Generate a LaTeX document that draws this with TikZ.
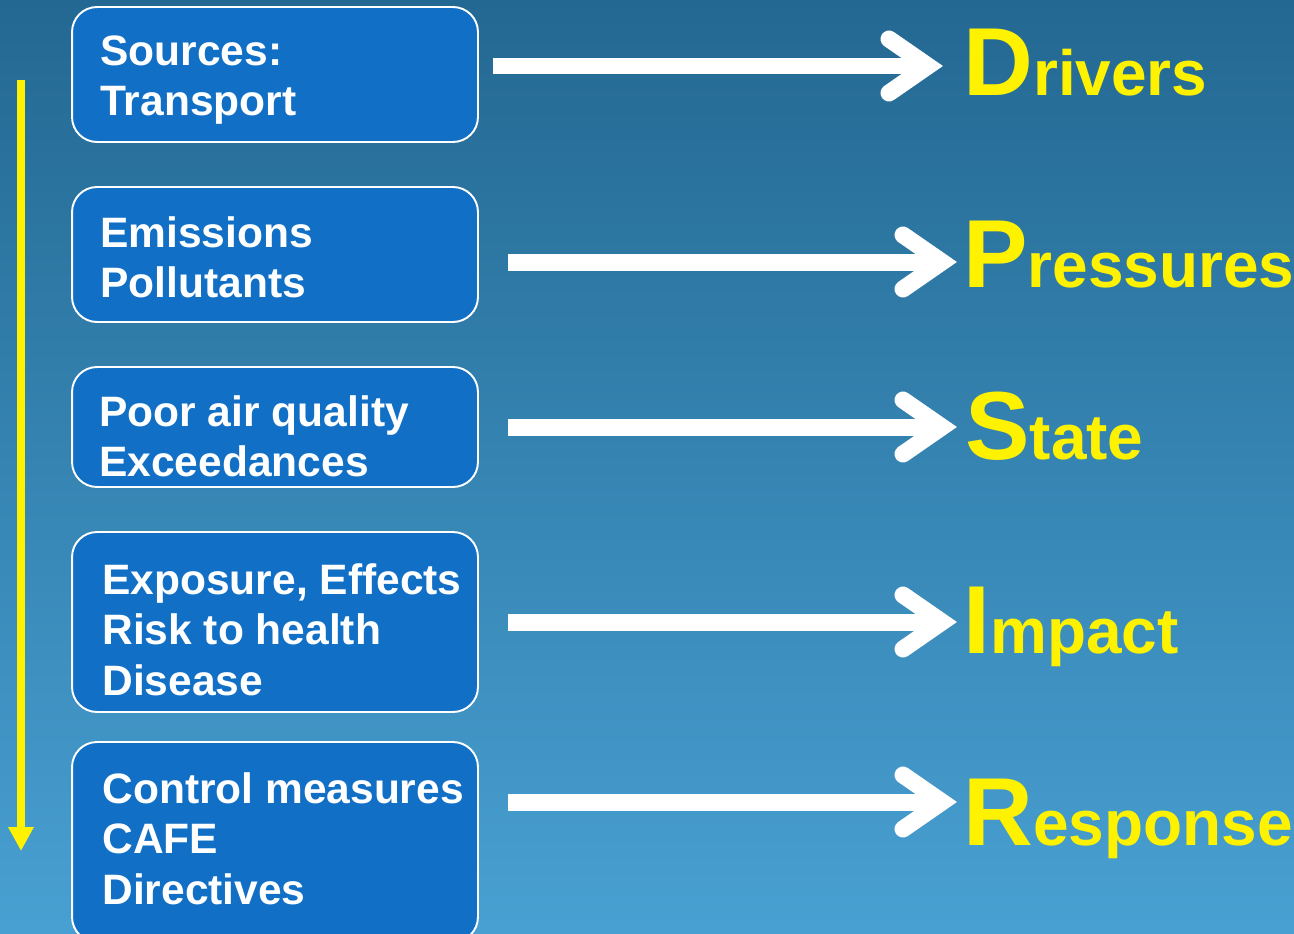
\documentclass[tikz,border=0pt]{standalone}
\usepackage{fontspec}
\setmainfont{Liberation Sans}
\usepackage{tikz}
\usetikzlibrary{arrows.meta,calc}

\definecolor{bgtop}{RGB}{35,104,146}
\definecolor{bgbottom}{RGB}{72,160,210}
\definecolor{boxblue}{RGB}{17,112,198}
\newcommand{\initial}[1]{{\fontsize{55}{55}\selectfont #1}}

\tikzset{
    stagebox/.style={draw=white, line width=1.1pt, fill=boxblue, rounded corners=0.5cm, minimum width=8.12cm, inner sep=0},
    stagetext/.style={anchor=north west, inner sep=0, align=left, text=white, font=\bfseries\fontsize{24.2}{28.9}\selectfont},
    dpsir/.style={anchor=base west, inner sep=0, text=yellow, font=\bfseries\fontsize{36.4}{37}\selectfont},
    flow/.style={draw=white, line width=0.34cm},
    flowhead/.style={draw=white, line width=0.34cm, line cap=round, line join=miter}
}

\begin{document}
\begin{tikzpicture}[x=0.02cm, y=-0.02cm]
    % Background
    \useasboundingbox (0,0) rectangle (1294,933);
    \shade[top color=bgtop, bottom color=bgbottom] (0,0) rectangle (1294,933);

    % Nodes
    \node[stagebox, minimum height=2.7cm] (sources) at (275,74.5) {};
    \node[stagebox, minimum height=2.7cm] (emissions) at (275,254.5) {};
    \node[stagebox, minimum height=2.4cm] (airquality) at (275,427) {};
    \node[stagebox, minimum height=3.6cm] (health) at (275,622) {};
    \node[stagebox, minimum height=4.0cm] (measures) at (275,842) {};

    \node[stagetext] (sourcestext) at (100,35) {Sources:\\Transport};
    \node[stagetext] (emissionstext) at (100,216) {Emissions\\Pollutants};
    \node[stagetext] (airqualitytext) at (99,395) {Poor air quality\\Exceedances};
    \node[stagetext] (healthtext) at (102,563) {Exposure, Effects\\Risk to health\\Disease};
    \node[stagetext] (measurestext) at (102,772) {Control measures\\CAFE\\Directives};

    \node[dpsir] (drivers) at (963,95) {\initial{D}rivers};
    \node[dpsir] (pressures) at (963,287) {\initial{P}ressures};
    \node[dpsir] (state) at (965,459) {\initial{S}tate};
    \node[dpsir] (impact) at (963,653) {\initial{I}mpact};
    \node[dpsir] (response) at (963,845) {\initial{R}esponse};

    % Arrows
    \coordinate (driversfrom) at (493,66);
    \coordinate (pressuresfrom) at (508,262);
    \coordinate (statefrom) at (508,427);
    \coordinate (impactfrom) at (508,622);
    \coordinate (responsefrom) at (508,802);

    \draw[flow] (driversfrom) -- ($(driversfrom -| drivers.west)+(-35,0)$) coordinate (driversto);
    \draw[flowhead] ($(driversto)+(-39,-27)$) -- (driversto) -- ($(driversto)+(-39,27)$);
    \draw[flow] (pressuresfrom) -- ($(pressuresfrom -| pressures.west)+(-21,0)$) coordinate (pressuresto);
    \draw[flowhead] ($(pressuresto)+(-39,-27)$) -- (pressuresto) -- ($(pressuresto)+(-39,27)$);
    \draw[flow] (statefrom) -- ($(statefrom -| pressures.west)+(-21,0)$) coordinate (stateto);
    \draw[flowhead] ($(stateto)+(-39,-27)$) -- (stateto) -- ($(stateto)+(-39,27)$);
    \draw[flow] (impactfrom) -- ($(impactfrom -| impact.west)+(-21,0)$) coordinate (impactto);
    \draw[flowhead] ($(impactto)+(-39,-27)$) -- (impactto) -- ($(impactto)+(-39,27)$);
    \draw[flow] (responsefrom) -- ($(responsefrom -| response.west)+(-21,0)$) coordinate (responseto);
    \draw[flowhead] ($(responseto)+(-39,-27)$) -- (responseto) -- ($(responseto)+(-39,27)$);

    \coordinate (flowtop) at (21,80);
    \coordinate (flowbottom) at (21,851);
    \draw[yellow, line width=0.16cm, -{Triangle[length=0.48cm, width=0.48cm]}] (flowtop) -- (flowbottom);
\end{tikzpicture}
\end{document}
